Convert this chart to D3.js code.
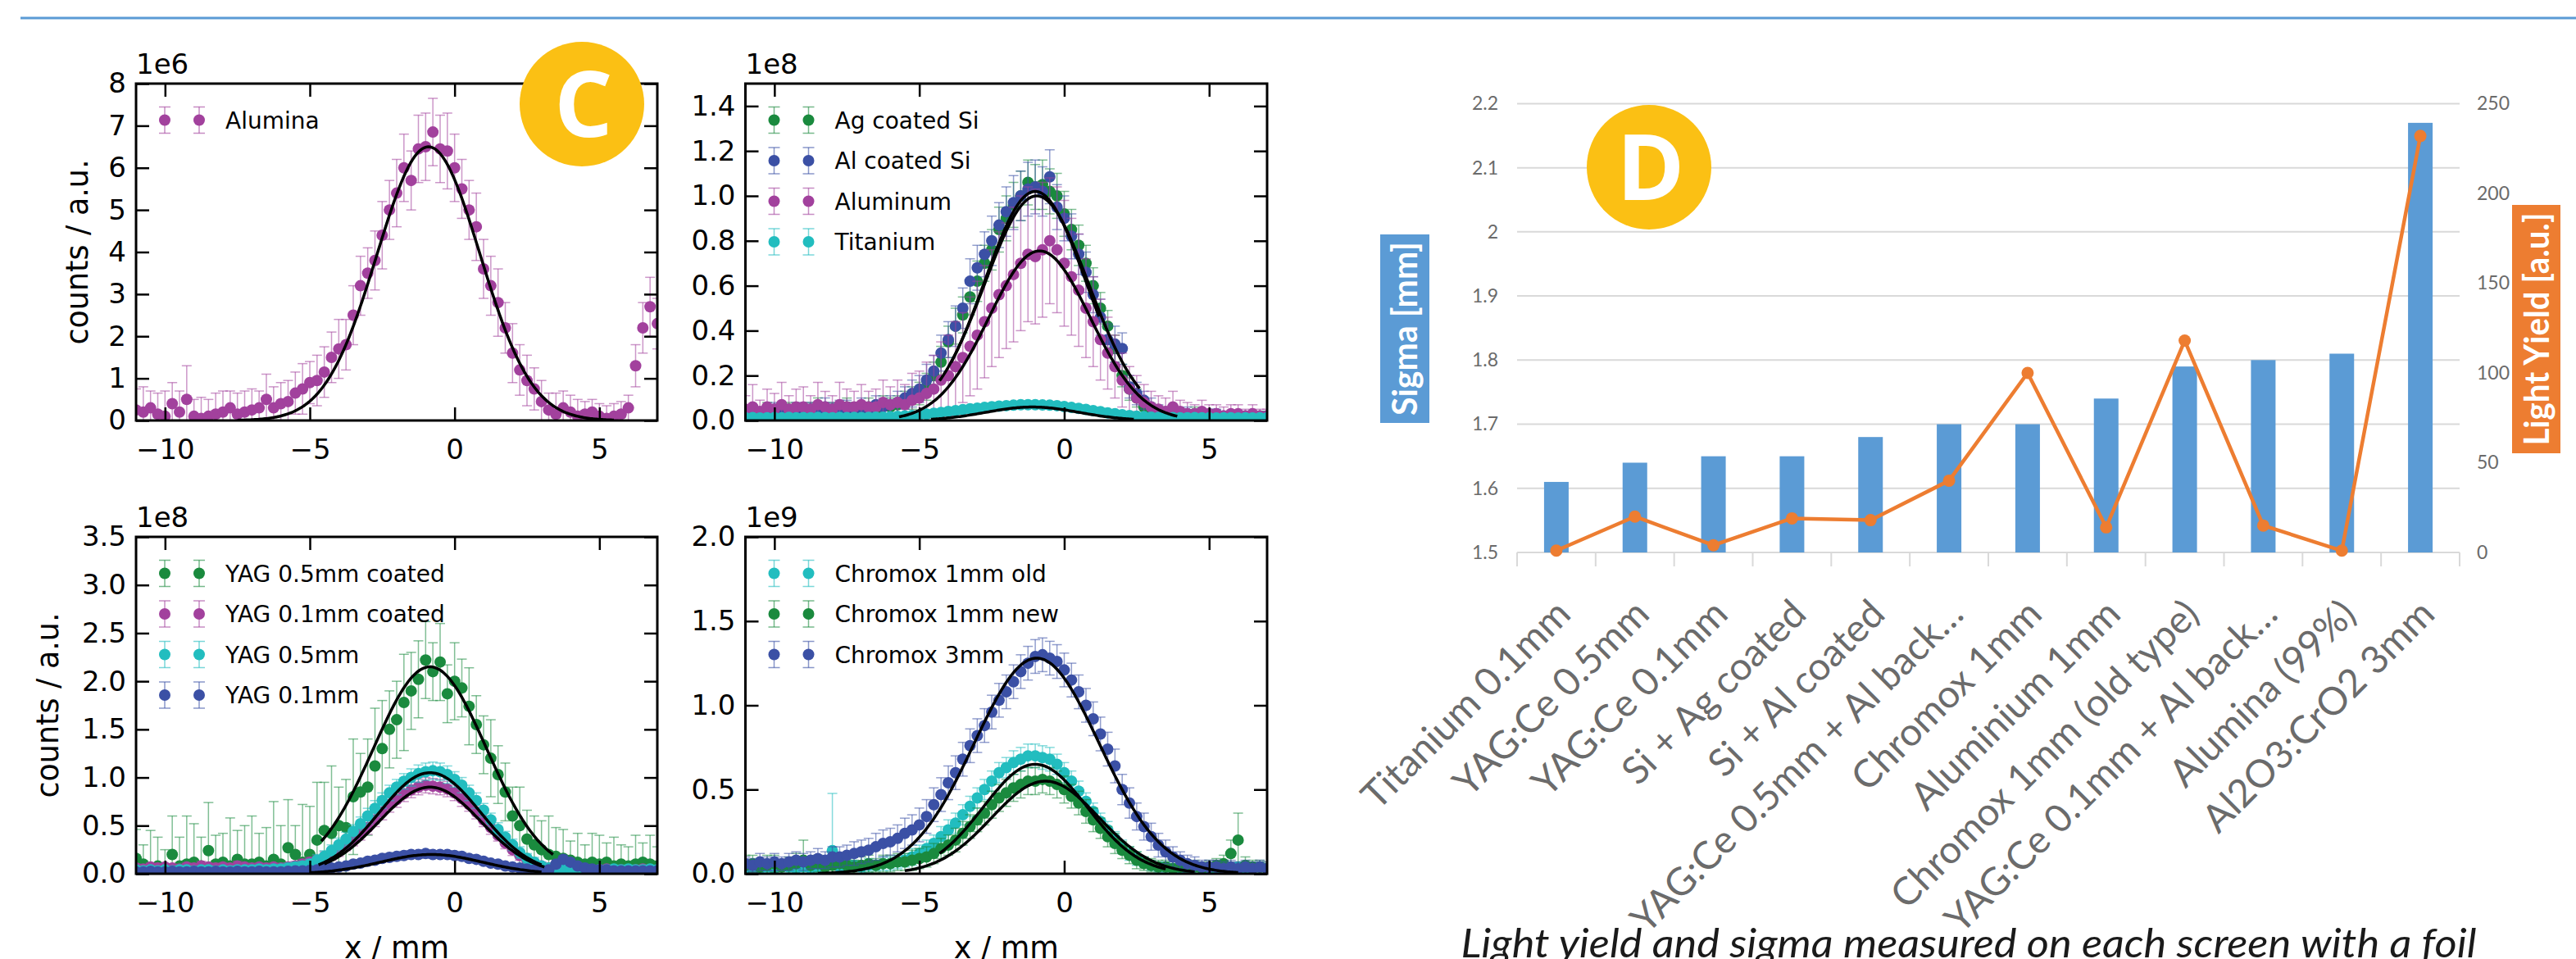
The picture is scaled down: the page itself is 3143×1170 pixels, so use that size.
<!DOCTYPE html>
<html><head><meta charset="utf-8">
<script src="https://cdn.jsdelivr.net/npm/d3@7"></script>
<style>body{margin:0;background:#fff}svg{display:block}</style>
</head><body>
<svg id="c" width="3143" height="1170"></svg>
<script>
// ---------------- DATA ----------------
const xMM = [-11,-10.75,-10.5,-10.25,-10,-9.75,-9.5,-9.25,-9,-8.75,-8.5,-8.25,-8,-7.75,-7.5,-7.25,-7,-6.75,-6.5,-6.25,-6,-5.75,-5.5,-5.25,-5,-4.75,-4.5,-4.25,-4,-3.75,-3.5,-3.25,-3,-2.75,-2.5,-2.25,-2,-1.75,-1.5,-1.25,-1,-0.75,-0.5,-0.25,0,0.25,0.5,0.75,1,1.25,1.5,1.75,2,2.25,2.5,2.75,3,3.25,3.5,3.75,4,4.25,4.5,4.75,5,5.25,5.5,5.75,6,6.25,6.5,6.75,7];
const xTicks = [-10,-5,0,5];

// Panel 1 (x1e6)
const aluminaY = [0.25,0.2,0.3,0.15, 0.1,0.4,0.2,0.5, 0.1,0.05,0.1,0.15, 0.2,0.3,0.15,0.2, 0.25,0.3,0.5,0.3, 0.4,0.45,0.65,0.75, 0.9,0.95,1.15,1.5, 1.7,1.8,2.5,3.2, 3.5,3.8,4.4,5.0, 5.4,6.0,5.7,6.45, 6.5,6.85,6.45,6.4, 6.0,5.5,5.0,4.6, 3.6,3.2,2.8,2.2, 1.6,1.2,0.95,0.75, 0.45,0.25,0.15,0.3, 0.2,0.1,0.15,0.2, 0.1,0.05,0.1,0.15, 0.3,1.3,2.2,2.7, 2.3];
const aluminaE = [.5,.6,.4,.5, .6,.5,.5,.8, .4,.5,.4,.5, .5,.4,.5,.5, .5,.4,.6,.5, .5,.5,.5,.6, .5,.6,.6,.6, .7,.6,.7,.7, .6,.7,.8,.7, .8,.8,.7,.8, .8,.8,.8,.9, .8,.7,.7,.8, .7,.7,.8,.6, .7,.6,.6,.5, .5,.4,.5,.4, .4,.4,.3,.3, .3,.3,.3,.3, .3,.5,.6,.7, .6];

// Panel 2 (x1e8)
const agY = [.03,.04,.03,.05, .04,.03,.05,.04, .03,.05,.06,.04, .05,.04,.06,.05, .05,.06,.05,.07, .06,.07,.08,.1, .12,.15,.2,.26, .35,.42,.47,.55, .62,.7,.76,.85, .9,.96,1.0,1.06, 1.04,1.05,1.02,1.0, .92,.85,.78,.7, .6,.5,.42,.32, .2,.14,.1,.06, .04,.03,.03,.02, .02,.02,.03,.02, .02,.02,.01,.02, .02,.01,.02,.02, .02];
const agE = [.03,.02,.03,.03, .02,.03,.03,.02, .03,.03,.04,.03, .03,.02,.04,.03, .03,.04,.03,.04, .04,.04,.05,.05, .05,.06,.06,.07, .07,.08,.08,.08, .09,.08,.09,.1, .1,.1,.11,.1, .1,.11,.1,.1, .1,.09,.09,.08, .08,.07,.07,.06, .05,.05,.04,.04, .03,.03,.03,.03, .02,.02,.03,.02, .02,.02,.02,.02, .02,.02,.02,.02, .02];
const alY = [.03,.04,.03,.04, .05,.04,.04,.05, .04,.05,.04,.06, .05,.06,.05,.05, .06,.05,.07,.06, .07,.08,.1,.12, .14,.18,.22,.3, .36,.42,.5,.62, .68,.74,.8,.87, .93,.97,1.0,1.03, 1.04,1.02,1.085,.95, .9,.82,.74,.66, .56,.46,.36,.34, .32,.15,.12,.09, .06,.04,.03,.03, .02,.03,.02,.02, .02,.03,.02,.02, .02,.02,.02,.01, .02];
const alE = [.03,.03,.02,.03, .03,.03,.02,.03, .03,.03,.03,.04, .03,.03,.04,.03, .04,.03,.04,.04, .04,.05,.05,.06, .06,.07,.07,.08, .08,.09,.09,.1, .1,.1,.11,.1, .11,.12,.11,.12, .12,.11,.12,.1, .1,.1,.09,.09, .08,.08,.07,.08, .07,.05,.05,.04, .04,.03,.03,.03, .02,.03,.02,.02, .03,.02,.02,.02, .02,.02,.02,.02, .02];
const aluminumY = [.05,.06,.04,.06, .05,.07,.05,.06, .06,.05,.07,.06, .05,.07,.06,.06, .07,.06,.06,.08, .07,.08,.07,.09, .1,.12,.14,.18, .2,.24,.28,.33, .38,.44,.5,.56, .6,.65,.7,.74, .73,.76,.8,.76, .7,.64,.58,.5, .44,.36,.3,.24, .18,.14,.1,.08, .06,.05,.04,.06, .04,.03,.03,.04, .03,.03,.02,.03, .03,.02,.03,.02, .02];
const aluminumE = [.06,.1,.05,.08, .07,.1,.06,.08, .09,.06,.1,.07, .06,.1,.08,.07, .09,.07,.08,.1, .08,.1,.09,.12, .12,.14,.15,.17, .18,.2,.2,.22, .24,.25,.26,.28, .28,.3,.3,.3, .3,.3,.28,.28, .28,.26,.25,.22, .2,.18,.16,.14, .12,.1,.1,.08, .07,.06,.06,.07, .05,.05,.04,.05, .04,.04,.04,.04, .04,.03,.04,.03, .03];
const titaniumY = [.012,.013,.011,.012, .013,.012,.014,.012, .013,.012,.014,.013, .012,.014,.013,.014, .013,.014,.015,.015, .016,.018,.02,.022, .025,.028,.032,.036, .04,.044,.048,.052, .055,.058,.061,.064, .066,.068,.07,.07, .07,.069,.068,.066, .062,.058,.054,.049, .044,.039,.034,.03, .026,.022,.019,.017, .015,.014,.013,.013, .012,.012,.013,.012, .012,.011,.012,.012, .011,.012,.011,.012, .012];
const titaniumE = [.01,.012,.01,.011, .01,.012,.011,.01, .012,.01,.011,.012, .01,.011,.012,.01, .011,.01,.012,.011, .01,.012,.011,.012, .012,.013,.012,.013, .013,.014,.013,.014, .014,.015,.014,.015, .015,.015,.015,.015, .015,.015,.015,.015, .015,.014,.014,.014, .013,.013,.013,.012, .012,.012,.011,.011, .011,.01,.011,.01, .01,.011,.01,.011, .01,.011,.01,.01, .011,.01,.011,.01, .01];

// Panel 3 (x1e8)
const yag05cY = [.16,.1,.05,.08, .05,.2,.08,.1, .12,.08,.24,.1, .12,.08,.15,.1, .1,.12,.08,.15, .1,.27,.2,.12, .2,.35,.45,.42, .5,.48,.8,.85, .9,1.12,1.3,1.5, 1.6,1.78,1.9,2.02, 2.22,2.1,2.2,1.87, 2.0,1.93,1.74,1.55, 1.34,1.2,1.03,.85, .6,.5,.36,.3, .25,.2,.18,.16, .14,.12,.1,.12, .1,.12,.08,.1, .08,.1,.12,.1, .08];
const yag05cE = [.3,.2,.4,.3, .2,.4,.3,.5, .4,.3,.5,.3, .3,.5,.3,.4, .5,.3,.4,.6, .4,.5,.3,.6, .5,.6,.5,.7, .4,.5,.6,.4, .5,.6,.5,.4, .4,.5,.4,.4, .4,.3,.4,.3, .4,.3,.4,.3, .3,.4,.3,.3, .3,.4,.3,.3, .3,.4,.3,.3, .2,.3,.2,.3, .3,.2,.3,.2, .2,.3,.2,.3, .2];
const yag01cY = [.06,.05,.07,.06, .07,.06,.05,.07, .06,.08,.07,.06, .07,.06,.08,.07, .06,.07,.06,.07, .06,.07,.08,.1, .12,.14,.17,.2, .24,.3,.36,.42, .48,.56,.64,.72, .77,.83,.87,.9, .92,.91,.9,.88, .84,.78,.72,.64, .56,.48,.4,.32, .25,.19,.14,.1, .08,.06,.05,.05, .05,.04,.05,.04, .04,.05,.04,.04, .04,.04,.05,.04, .04];
const yag01cE = [.04,.03,.04,.04, .03,.04,.03,.04, .04,.05,.04,.03, .04,.04,.05,.04, .03,.04,.04,.04, .04,.04,.05,.05, .05,.05,.06,.06, .06,.06,.07,.07, .07,.07,.08,.08, .08,.08,.08,.08, .08,.08,.08,.08, .08,.08,.07,.07, .07,.07,.06,.06, .06,.05,.05,.05, .04,.04,.04,.04, .04,.04,.04,.04, .03,.04,.03,.03, .03,.03,.04,.03, .03];
const yag05Y = [.04,.03,.04,.03, .04,.03,.04,.04, .03,.04,.04,.03, .04,.03,.04,.04, .04,.05,.04,.05, .05,.06,.07,.08, .1,.14,.18,.24, .3,.36,.44,.52, .6,.68,.76,.84, .9,.96,1.0,1.04, 1.06,1.07,1.06,1.03, .98,.92,.84,.76, .66,.56,.46,.38, .3,.22,.16,.12, .08,.06,.05,.05, .05,.04,.05,.04, .04,.04,.05,.04, .05,.04,.04,.05, .04];
const yag05E = [.03,.04,.03,.04, .03,.04,.04,.03, .04,.03,.04,.04, .03,.04,.04,.03, .04,.04,.04,.04, .04,.05,.05,.05, .05,.06,.06,.06, .07,.07,.07,.07, .08,.08,.08,.08, .08,.08,.09,.09, .09,.09,.09,.09, .08,.08,.08,.08, .07,.07,.07,.06, .06,.06,.05,.05, .04,.04,.04,.04, .04,.04,.04,.04, .04,.04,.04,.04, .04,.04,.04,.04, .04];
const yag01Y = [.02,.02,.025,.02, .02,.025,.02,.02, .025,.02,.02,.025, .02,.02,.025,.02, .02,.025,.02,.02, .02,.025,.03,.03, .035,.04,.05,.06, .07,.08,.1,.11, .13,.14,.16,.17, .18,.19,.2,.2, .21,.2,.2,.2, .19,.18,.16,.15, .13,.11,.1,.08, .07,.06,.05,.04, .03,.04,.1,.15, .12,.08,.06,.05, .04,.04,.03,.03, .03,.03,.03,.03, .03];
const yag01E = [.02,.02,.02,.02, .02,.02,.02,.02, .02,.02,.02,.02, .02,.02,.02,.02, .02,.02,.02,.02, .02,.02,.02,.025, .025,.025,.03,.03, .03,.03,.03,.035, .035,.035,.035,.04, .04,.04,.04,.04, .04,.04,.04,.04, .04,.04,.035,.035, .035,.03,.03,.03, .03,.025,.025,.025, .02,.02,.03,.035, .035,.03,.025,.02, .02,.02,.02,.02, .02,.02,.02,.02, .02];

// Panel 4 (x1e9)
const chromoxOldY = [.03,.04,.03,.04, .03,.04,.04,.03, .04,.03,.04,.05, .137,.04,.04,.05, .04,.05,.05,.06, .06,.07,.08,.1, .12,.15,.18,.22, .26,.3,.35,.4, .45,.5,.55,.6, .63,.66,.68,.7, .7,.69,.68,.65, .6,.55,.49,.43, .37,.31,.26,.21, .16,.12,.09,.07, .05,.04,.04,.03, .03,.03,.04,.03, .03,.03,.04,.03, .04,.03,.03,.04, .03];
const chromoxOldE = [.03,.03,.04,.03, .03,.04,.03,.03, .04,.03,.03,.04, .34,.03,.04,.03, .03,.04,.03,.04, .04,.04,.04,.05, .05,.05,.05,.06, .06,.06,.06,.06, .06,.06,.06,.06, .06,.07,.07,.07, .07,.07,.07,.06, .06,.06,.06,.05, .05,.05,.05,.04, .04,.04,.04,.03, .03,.03,.03,.03, .03,.03,.03,.03, .03,.03,.03,.03, .03,.03,.03,.03, .03];
const chromoxNewY = [.05,.06,.04,.05, .06,.04,.05,.06, .08,.05,.06,.04, .05,.06,.05,.04, .05,.06,.05,.06, .06,.07,.07,.08, .09,.1,.12,.15, .17,.2,.24,.28, .32,.36,.41,.45, .48,.51,.53,.55, .55,.56,.55,.53, .5,.46,.42,.37, .32,.27,.22,.18, .14,.11,.08,.06, .05,.04,.04,.03, .04,.03,.04,.03, .04,.05,.06,.12, .2,.05,.04,.04, .03];
const chromoxNewE = [.06,.05,.04,.06, .05,.04,.05,.06, .12,.05,.05,.04, .05,.05,.04,.04, .05,.05,.04,.05, .05,.05,.05,.06, .06,.06,.06,.06, .06,.07,.07,.07, .07,.07,.08,.08, .08,.08,.08,.08, .08,.08,.08,.08, .08,.07,.07,.07, .07,.06,.06,.06, .05,.05,.05,.04, .04,.04,.04,.04, .04,.04,.04,.04, .04,.04,.05,.08, .16,.05,.04,.04, .04];
const chromox3Y = [.06,.05,.07,.06, .07,.06,.07,.08, .07,.08,.09,.08, .1,.1,.11,.12, .13,.14,.16,.18, .19,.21,.24,.26, .29,.34,.41,.47, .54,.6,.68,.76, .82,.88,.96,1.03, 1.08,1.14,1.2,1.25, 1.29,1.3,1.28,1.26, 1.21,1.15,1.08,1.0, .92,.83,.74,.64, .5,.42,.34,.28, .22,.17,.13,.1, .08,.06,.05,.04, .04,.04,.03,.04, .03,.04,.03,.04, .03];
const chromox3E = [.04,.04,.05,.04, .05,.04,.05,.05, .05,.05,.06,.05, .06,.06,.06,.07, .07,.07,.08,.08, .08,.08,.09,.09, .1,.1,.1,.1, .1,.1,.1,.1, .1,.1,.1,.1, .1,.1,.1,.1, .1,.1,.1,.1, .1,.1,.1,.1, .1,.1,.1,.1, .09,.09,.08,.08, .08,.07,.07,.06, .05,.05,.05,.04, .04,.04,.04,.04, .04,.04,.04,.04, .04];

// Gaussian fit parameters (amplitude, centre, sigma, drawn range)
const fitAlumina = {A:6.5, mu:-0.9, s:1.78, from:-7.5, to:5.5};
const fitAg = {A:1.02, mu:-1.0, s:1.75, from:-3.9, to:1.2};
const fitAl = {A:1.0, mu:-0.95, s:1.8, from:-4.3, to:2.6};
const fitAluminum = {A:0.755, mu:-0.85, s:1.75, from:-5.7, to:3.9};
const fitTitanium = {A:0.06, mu:-1.1, s:1.6, from:-4.6, to:2.4};
const fitYag05c = {A:2.15, mu:-0.85, s:1.95, from:-4.6, to:3.4};
const fitYag01c = {A:0.9, mu:-0.85, s:1.75, from:-4.5, to:3.1};
const fitYag05 = {A:1.05, mu:-0.85, s:1.75, from:-4.7, to:3.0};
const fitYag01 = {A:0.2, mu:-0.8, s:1.75, from:-5.0, to:3.0};
const fitChromoxOld = {A:0.65, mu:-1.0, s:1.8, from:-4.3, to:3.5};
const fitChromoxNew = {A:0.55, mu:-0.65, s:1.85, from:-5.5, to:4.5};
const fitChromox3 = {A:1.28, mu:-0.95, s:2.15, from:-8.5, to:6.0};

// Panel D
const categories = ["Titanium 0.1mm","YAG:Ce 0.5mm","YAG:Ce 0.1mm","Si + Ag coated","Si + Al coated","YAG:Ce 0.5mm + Al back\u2026","Chromox 1mm","Aluminium 1mm","Chromox 1mm (old type)","YAG:Ce 0.1mm + Al back\u2026","Alumina (99%)","Al2O3:CrO2 3mm"];
const sigmaMM = [1.61,1.64,1.65,1.65,1.68,1.70,1.70,1.74,1.79,1.80,1.81,2.17];
const lightYield = [1,20,4,19,18,40,100,14,118,15,1,232];
const sigmaTicks = [1.5,1.6,1.7,1.8,1.9,2.0,2.1,2.2];
const yieldTicks = [0,50,100,150,200,250];

// ---------------- STYLE ----------------
const COL = {green:"#1a8a3e", purple:"#a2419d", blue:"#3b50a5", cyan:"#22bdbf"};
const svg = d3.select("#c");
const MPL = "'DejaVu Sans', sans-serif";
const R = 7;

// top rule
svg.append("line").attr("x1",25).attr("x2",3143).attr("y1",22).attr("y2",22)
  .attr("stroke","#5b9bd5").attr("stroke-width",3);

const panels = [
  {id:"p1", l:166, r:802, t:102, b:513, yMax:8, yTicks:[0,1,2,3,4,5,6,7,8], fmt:d=>String(d), exp:"1e6", ylab:107, xlab:false,
   series:[{name:"Alumina", c:COL.purple, y:aluminaY, e:aluminaE, fit:fitAlumina}]},
  {id:"p2", l:909.5, r:1546, t:102, b:513, yMax:1.5, yTicks:[0,0.2,0.4,0.6,0.8,1.0,1.2,1.4], fmt:d3.format(".1f"), exp:"1e8", ylab:null, xlab:false,
   series:[{name:"Ag coated Si", c:COL.green, y:agY, e:agE, fit:fitAg},
           {name:"Al coated Si", c:COL.blue, y:alY, e:alE, fit:fitAl},
           {name:"Aluminum", c:COL.purple, y:aluminumY, e:aluminumE, fit:fitAluminum},
           {name:"Titanium", c:COL.cyan, y:titaniumY, e:titaniumE, fit:fitTitanium}]},
  {id:"p3", l:166, r:802, t:655, b:1066, yMax:3.5, yTicks:[0,0.5,1.0,1.5,2.0,2.5,3.0,3.5], fmt:d3.format(".1f"), exp:"1e8", ylab:71, xlab:true,
   series:[{name:"YAG 0.5mm coated", c:COL.green, y:yag05cY, e:yag05cE, fit:fitYag05c},
           {name:"YAG 0.1mm coated", c:COL.purple, y:yag01cY, e:yag01cE, fit:fitYag01c},
           {name:"YAG 0.5mm", c:COL.cyan, y:yag05Y, e:yag05E, fit:fitYag05},
           {name:"YAG 0.1mm", c:COL.blue, y:yag01Y, e:yag01E, fit:fitYag01}]},
  {id:"p4", l:909.5, r:1546, t:655, b:1066, yMax:2.0, yTicks:[0,0.5,1.0,1.5,2.0], fmt:d3.format(".1f"), exp:"1e9", ylab:null, xlab:true,
   series:[{name:"Chromox 1mm old", c:COL.cyan, y:chromoxOldY, e:chromoxOldE, fit:fitChromoxOld},
           {name:"Chromox 1mm new", c:COL.green, y:chromoxNewY, e:chromoxNewE, fit:fitChromoxNew},
           {name:"Chromox 3mm", c:COL.blue, y:chromox3Y, e:chromox3E, fit:fitChromox3}]}
];

const minus = d => (d < 0 ? "\u2212" + (-d) : String(d));

panels.forEach(p => {
  const g = svg.append("g");
  const x = d3.scaleLinear().domain([-11,7]).range([p.l,p.r]);
  const y = d3.scaleLinear().domain([0,p.yMax]).range([p.b,p.t]);
  const cid = "clip-"+p.id;
  svg.append("clipPath").attr("id",cid).append("rect")
    .attr("x",p.l).attr("y",p.t).attr("width",p.r-p.l).attr("height",p.b-p.t);
  const data = g.append("g").attr("clip-path",`url(#${cid})`);

  p.series.forEach(s => {
    const pts = xMM.map((xv,i)=>({x:xv, y:s.y[i], e:s.e[i]}));
    const sg = data.append("g");
    const eb = sg.append("g").attr("stroke",s.c).attr("stroke-width",1.5).attr("stroke-opacity",0.55);
    eb.selectAll("line.v").data(pts).join("line").attr("class","v")
      .attr("x1",d=>x(d.x)).attr("x2",d=>x(d.x)).attr("y1",d=>y(d.y-d.e)).attr("y2",d=>y(d.y+d.e));
    eb.selectAll("line.t").data(pts).join("line").attr("class","t")
      .attr("x1",d=>x(d.x)-6).attr("x2",d=>x(d.x)+6).attr("y1",d=>y(d.y+d.e)).attr("y2",d=>y(d.y+d.e));
    eb.selectAll("line.b").data(pts).join("line").attr("class","b")
      .attr("x1",d=>x(d.x)-6).attr("x2",d=>x(d.x)+6).attr("y1",d=>y(d.y-d.e)).attr("y2",d=>y(d.y-d.e));
    sg.selectAll("circle").data(pts).join("circle")
      .attr("cx",d=>x(d.x)).attr("cy",d=>y(d.y)).attr("r",R).attr("fill",s.c);
  });
  const line = d3.line().x(d=>x(d[0])).y(d=>y(d[1]));
  p.series.forEach(s => {
    const f = s.fit;
    const xs = d3.range(f.from, f.to+1e-9, 0.05);
    const curve = xs.map(v => [v, f.A*Math.exp(-((v-f.mu)**2)/(2*f.s*f.s))]);
    data.append("path").datum(curve).attr("d",line).attr("fill","none")
      .attr("stroke","#000").attr("stroke-width",3.5);
  });

  // axes with inward ticks
  const styleAx = sel => {
    sel.select(".domain").remove();
    sel.selectAll(".tick line").attr("stroke","#000").attr("stroke-width",2.5);
    sel.selectAll("text").attr("font-family",MPL).attr("font-size",34).attr("fill","#000");
  };
  g.append("g").attr("transform",`translate(0,${p.b})`)
    .call(d3.axisBottom(x).tickValues(xTicks).tickSize(-16).tickPadding(23).tickFormat(minus)).call(styleAx);
  g.append("g").attr("transform",`translate(0,${p.t})`)
    .call(d3.axisTop(x).tickValues(xTicks).tickSize(-16).tickFormat("")).call(styleAx);
  g.append("g").attr("transform",`translate(${p.l},0)`)
    .call(d3.axisLeft(y).tickValues(p.yTicks).tickSize(-16).tickPadding(12).tickFormat(p.fmt)).call(styleAx);
  g.append("g").attr("transform",`translate(${p.r},0)`)
    .call(d3.axisRight(y).tickValues(p.yTicks).tickSize(-16).tickFormat("")).call(styleAx);

  g.append("rect").attr("x",p.l).attr("y",p.t).attr("width",p.r-p.l).attr("height",p.b-p.t)
    .attr("fill","none").attr("stroke","#000").attr("stroke-width",3);

  g.append("text").attr("x",p.l).attr("y",p.t-12).attr("font-family",MPL).attr("font-size",34).text(p.exp);

  if (p.ylab !== null) {
    g.append("text").attr("transform",`translate(${p.ylab},${(p.t+p.b)/2}) rotate(-90)`)
      .attr("text-anchor","middle").attr("font-family",MPL).attr("font-size",36.5).text("counts / a.u.");
  }
  if (p.xlab) {
    g.append("text").attr("x",(p.l+p.r)/2).attr("y",1169).attr("text-anchor","middle")
      .attr("font-family",MPL).attr("font-size",36.5).text("x / mm");
  }

  // legend
  const lg = g.append("g");
  p.series.forEach((s,k) => {
    const ly = p.t + 44.5 + k*49.5;
    [p.l+35, p.l+77].forEach(mx => {
      const e = lg.append("g").attr("stroke",s.c).attr("stroke-width",1.5).attr("stroke-opacity",0.6);
      e.append("line").attr("x1",mx).attr("x2",mx).attr("y1",ly-16).attr("y2",ly+16);
      e.append("line").attr("x1",mx-7).attr("x2",mx+7).attr("y1",ly-16).attr("y2",ly-16);
      e.append("line").attr("x1",mx-7).attr("x2",mx+7).attr("y1",ly+16).attr("y2",ly+16);
      lg.append("circle").attr("cx",mx).attr("cy",ly).attr("r",R).attr("fill",s.c);
    });
    lg.append("text").attr("x",p.l+109).attr("y",ly+10).attr("font-family",MPL).attr("font-size",28).text(s.name);
  });
});

// ---------------- PANEL D ----------------
const D = {l:1851, r:3001, t:126.4, b:674};
const XD = "Lato, 'Carlito', 'Open Sans', sans-serif";
const xb = d3.scaleBand().domain(categories).range([D.l,D.r]).padding(0);
const yS = d3.scaleLinear().domain([1.5,2.2]).range([D.b,D.t]);
const yL = d3.scaleLinear().domain([0,250]).range([D.b,D.t]);
const gd = svg.append("g");

gd.append("g").selectAll("line").data(sigmaTicks).join("line")
  .attr("x1",D.l).attr("x2",D.r).attr("y1",d=>yS(d)).attr("y2",d=>yS(d))
  .attr("stroke","#d9d9d9").attr("stroke-width",2);
// category boundary ticks
const bounds = categories.map(c=>xb(c)).concat([D.r]);
gd.append("g").selectAll("line").data(bounds).join("line")
  .attr("x1",d=>d).attr("x2",d=>d).attr("y1",D.b).attr("y2",D.b+17)
  .attr("stroke","#d9d9d9").attr("stroke-width",2);

const axStyleD = sel => {
  sel.select(".domain").remove();
  sel.selectAll(".tick line").remove();
  sel.selectAll("text").attr("font-family",XD).attr("font-size",23).attr("fill","#6b6b6b");
};
gd.append("g").attr("transform",`translate(${D.l},0)`)
  .call(d3.axisLeft(yS).tickValues(sigmaTicks).tickSize(0).tickPadding(23).tickFormat(d=>String(+d.toFixed(1)))).call(axStyleD);
gd.append("g").attr("transform",`translate(${D.r},0)`)
  .call(d3.axisRight(yL).tickValues(yieldTicks).tickSize(0).tickPadding(21)).call(axStyleD);

// bars
gd.append("g").selectAll("rect").data(categories).join("rect")
  .attr("x",(c)=>xb(c)+xb.bandwidth()/2-15).attr("width",30)
  .attr("y",(c,i)=>yS(sigmaMM[i])).attr("height",(c,i)=>D.b-yS(sigmaMM[i]))
  .attr("fill","#5b9bd5");

// line
const ly = d3.line().x((d,i)=>xb(categories[i])+xb.bandwidth()/2).y(d=>yL(d));
gd.append("path").datum(lightYield).attr("d",ly).attr("fill","none")
  .attr("stroke","#ed7d31").attr("stroke-width",4.5).attr("stroke-linejoin","round");
gd.append("g").selectAll("circle").data(lightYield).join("circle")
  .attr("cx",(d,i)=>xb(categories[i])+xb.bandwidth()/2).attr("cy",d=>yL(d)).attr("r",7.5).attr("fill","#ed7d31");

// category labels
gd.append("g").selectAll("text").data(categories).join("text")
  .attr("transform",c=>`translate(${xb(c)+xb.bandwidth()/2+20},${D.b+78}) rotate(-45)`)
  .attr("text-anchor","end").attr("font-family",XD).attr("font-size",47).attr("fill","#6b6b6b")
  .text(c=>c);

// axis title boxes
gd.append("rect").attr("x",1684).attr("y",286).attr("width",60).attr("height",230).attr("fill","#5b9bd5");
gd.append("text").attr("transform","translate(1729,401) rotate(-90)").attr("text-anchor","middle")
  .attr("font-family",XD).attr("font-weight","bold").attr("font-size",42).attr("fill","#fff")
  .attr("textLength",212).attr("lengthAdjust","spacingAndGlyphs").text("Sigma [mm]");
gd.append("rect").attr("x",3065).attr("y",250).attr("width",59).attr("height",303).attr("fill","#ed7d31");
gd.append("text").attr("transform","translate(3109.5,401.5) rotate(-90)").attr("text-anchor","middle")
  .attr("font-family",XD).attr("font-weight","bold").attr("font-size",42).attr("fill","#fff")
  .attr("textLength",284).attr("lengthAdjust","spacingAndGlyphs").text("Light Yield [a.u.]");

// caption
svg.append("text").attr("x",2402).attr("y",1168).attr("text-anchor","middle")
  .attr("font-family",XD).attr("font-style","italic").attr("font-size",48).attr("fill","#1a1a1a")
  .attr("textLength",1239).attr("lengthAdjust","spacingAndGlyphs")
  .text("Light yield and sigma measured on each screen with a foil");

// badges
[["C",710,127],["D",2012,204]].forEach(([t,cx,cy])=>{
  svg.append("circle").attr("cx",cx).attr("cy",cy).attr("r",76).attr("fill","#fbc014");
  svg.append("text").attr("x",cx+2).attr("y",cy+40).attr("text-anchor","middle")
    .attr("font-family","'Open Sans', sans-serif").attr("font-weight","bold").attr("font-size",112)
    .attr("fill","#fff").text(t);
});
</script>
</body></html>
